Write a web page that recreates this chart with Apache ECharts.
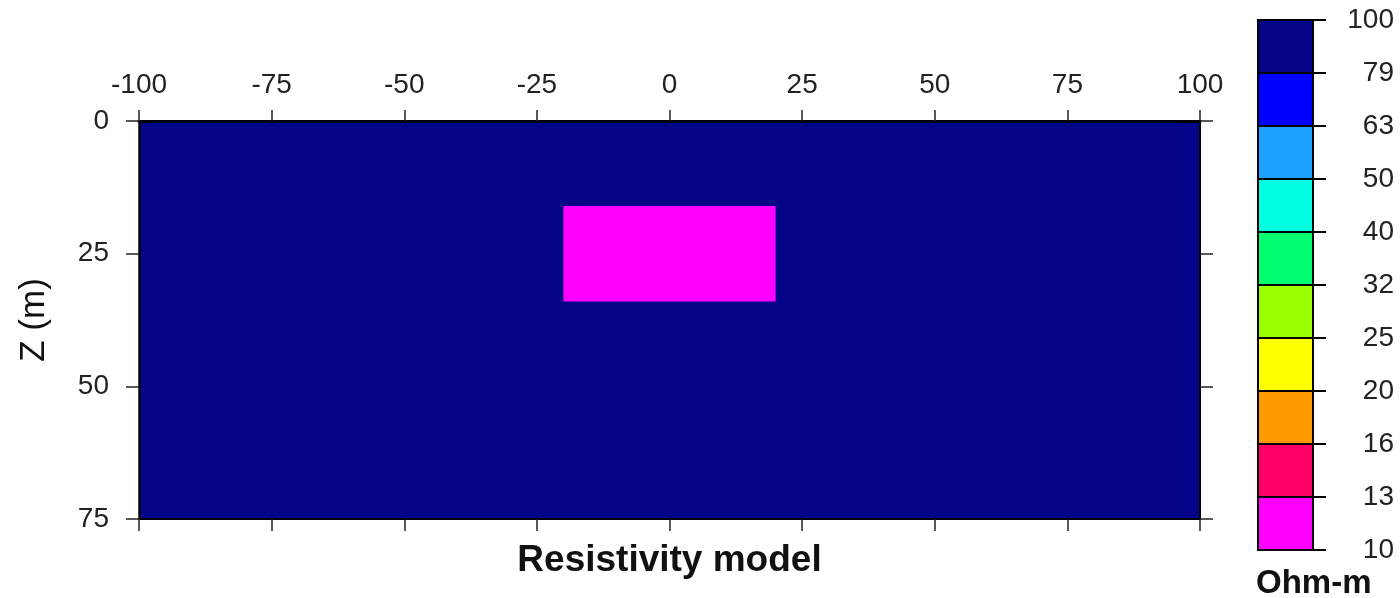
<!DOCTYPE html>
<html>
<head>
<meta charset="utf-8">
<script src="https://cdn.jsdelivr.net/npm/echarts@6/dist/echarts.min.js"></script>
<style>
html,body{margin:0;padding:0;background:#fff;}
#chart{width:1400px;height:598px;}
</style>
</head>
<body>
<div id="chart"></div>
<script>
// ---- data ----
const colorLevels = [10, 13, 16, 20, 25, 32, 40, 50, 63, 79, 100];
const colorBands = ['#ff00ff', '#ff0066', '#ff9900', '#ffff00', '#99ff00', '#00ff6e', '#00ffe0', '#1ea0ff', '#0000ff', '#040488'];
// model blocks (x in m, z in m, resistivity in Ohm-m)
const blockX0 = [-100, -20];
const blockX1 = [100, 20];
const blockZ0 = [0, 16];
const blockZ1 = [75, 34];
const blockRho = [100, 10];

const FONT = '"Liberation Sans", Arial, Helvetica, sans-serif';

function colorFor(rho) {
  for (let i = 0; i < colorBands.length; i++) {
    if (rho >= colorLevels[i] && rho < colorLevels[i + 1]) return colorBands[i];
  }
  return colorBands[colorBands.length - 1];
}

const modelData = blockRho.map((r, i) => [blockX0[i], blockX1[i], blockZ0[i], blockZ1[i], r]);
const barData = colorBands.map((c, i) => [i]);

const chart = echarts.init(document.getElementById('chart'));
const labelStyle = { color: '#222', fontSize: 28, fontFamily: FONT };
const tickStyle = { color: '#222', width: 1.5 };

chart.setOption({
  animation: false,
  title: {
    text: 'Ohm-m', left: 1256, top: 567, padding: 0,
    textStyle: { fontSize: 33, fontWeight: 'bold', color: '#111', fontFamily: FONT }
  },
  grid: [
    { left: 139, top: 121, width: 1061, height: 398 },
    { left: 1258, top: 20, width: 55, height: 530 }
  ],
  xAxis: [
    { gridIndex: 0, type: 'value', position: 'top', min: -100, max: 100, interval: 25, z: 5,
      axisLine: { show: true, onZero: false, lineStyle: { color: '#000', width: 3 } },
      axisTick: { show: true, length: 11, lineStyle: tickStyle },
      axisLabel: Object.assign({ margin: 22 }, labelStyle),
      splitLine: { show: false } },
    { gridIndex: 0, type: 'value', position: 'bottom', min: -100, max: 100, interval: 25, z: 5,
      name: 'Resistivity model', nameLocation: 'middle', nameGap: 23,
      nameTextStyle: { fontSize: 37, fontWeight: 'bold', color: '#111', fontFamily: FONT },
      axisLine: { show: true, onZero: false, lineStyle: { color: '#000', width: 2 } },
      axisTick: { show: true, length: 12, lineStyle: tickStyle },
      axisLabel: { show: false },
      splitLine: { show: false } },
    { gridIndex: 1, type: 'value', min: 0, max: 1, show: false }
  ],
  yAxis: [
    { gridIndex: 0, type: 'value', position: 'left', inverse: true, min: 0, max: 75, interval: 25, z: 5,
      name: 'Z (m)', nameLocation: 'middle', nameGap: 87,
      nameTextStyle: { fontSize: 35, color: '#111', fontFamily: FONT },
      axisLine: { show: true, onZero: false, lineStyle: { color: '#000', width: 2.5 } },
      axisTick: { show: true, length: 13, lineStyle: tickStyle },
      axisLabel: Object.assign({ margin: 30 }, labelStyle),
      splitLine: { show: false } },
    { gridIndex: 0, type: 'value', position: 'right', inverse: true, min: 0, max: 75, interval: 25, z: 5,
      axisLine: { show: true, onZero: false, lineStyle: { color: '#000', width: 2 } },
      axisTick: { show: true, length: 13, lineStyle: tickStyle },
      axisLabel: { show: false },
      splitLine: { show: false } },
    { gridIndex: 1, type: 'value', position: 'right', min: 0, max: 10, interval: 1, z: 5,
      axisLine: { show: true, onZero: false, lineStyle: { color: '#000', width: 2 } },
      axisTick: { show: true, length: 13, lineStyle: { color: '#000', width: 2 } },
      axisLabel: Object.assign({ margin: 81, align: 'right', formatter: v => String(colorLevels[v]) }, labelStyle),
      splitLine: { show: false } }
  ],
  series: [
    {
      type: 'custom', xAxisIndex: 0, yAxisIndex: 0, z: 1, clip: true,
      data: modelData,
      renderItem: function (params, api) {
        const p0 = api.coord([api.value(0), api.value(2)]);
        const p1 = api.coord([api.value(1), api.value(3)]);
        return {
          type: 'rect',
          shape: { x: Math.min(p0[0], p1[0]), y: Math.min(p0[1], p1[1]),
                   width: Math.abs(p1[0] - p0[0]), height: Math.abs(p1[1] - p0[1]) },
          style: { fill: colorFor(api.value(4)) }
        };
      }
    },
    {
      type: 'custom', xAxisIndex: 2, yAxisIndex: 2, z: 1,
      data: barData,
      renderItem: function (params, api) {
        const i = api.value(0);
        const p0 = api.coord([0, i]);
        const p1 = api.coord([1, i + 1]);
        return {
          type: 'rect',
          shape: { x: p0[0], y: p1[1], width: p1[0] - p0[0], height: p0[1] - p1[1] },
          style: { fill: colorBands[i], stroke: '#000', lineWidth: 2 }
        };
      }
    }
  ]
});
</script>
</body>
</html>
